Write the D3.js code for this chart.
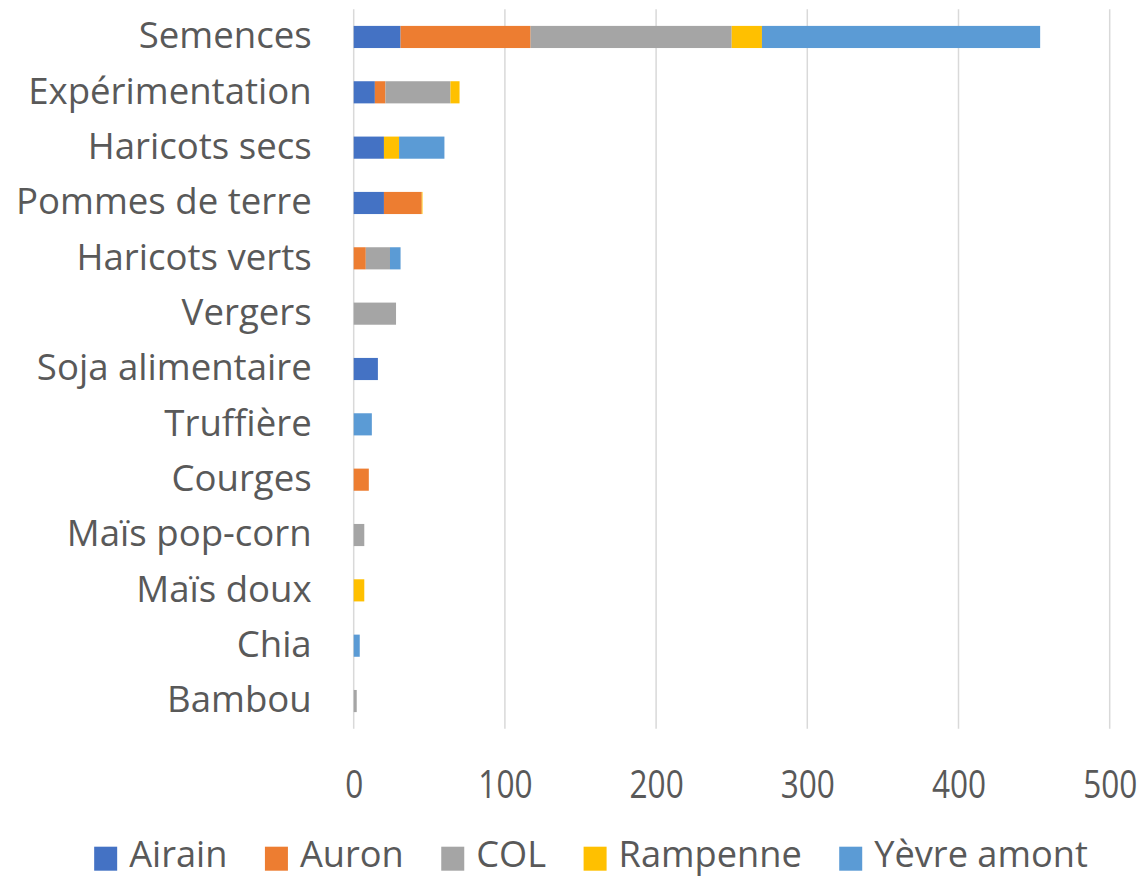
<!DOCTYPE html>
<html>
<head>
<meta charset="utf-8">
<script src="https://cdn.jsdelivr.net/npm/d3@7"></script>
<style>
  html, body { margin: 0; padding: 0; background: #fff; }
  svg { display: block; font-family: "Open Sans", sans-serif; }
</style>
</head>
<body>
<svg id="chart" width="1146" height="878"></svg>
<script>
const categories = ["Semences", "Expérimentation", "Haricots secs", "Pommes de terre", "Haricots verts", "Vergers", "Soja alimentaire", "Truffière", "Courges", "Maïs pop-corn", "Maïs doux", "Chia", "Bambou"];
const seriesNames = ["Airain", "Auron", "COL", "Rampenne", "Yèvre amont"];
const airain   = [31, 14, 20, 20, 0, 0, 16, 0, 0, 0, 0, 0, 0];
const auron    = [86, 7, 0, 25, 8, 0, 0, 0, 10, 0, 0, 0, 0];
const col      = [133, 43, 0, 0, 16, 28, 0, 0, 0, 7, 0, 0, 2];
const rampenne = [20, 6, 10, 0.5, 0, 0, 0, 0, 0, 0, 7, 0, 0];
const yevre    = [184, 0, 30, 0, 7, 0, 0, 12, 0, 0, 0, 4, 0];
const colors   = ["#4472C4", "#ED7D31", "#A5A5A5", "#FFC000", "#5B9BD5"];
const xTicks   = [0, 100, 200, 300, 400, 500];

const seriesValues = [airain, auron, col, rampenne, yevre];
const rows = categories.map((c, i) => {
  const r = { category: c };
  seriesNames.forEach((s, j) => r[s] = seriesValues[j][i]);
  return r;
});

const svg = d3.select("#chart");
const plot = { left: 353.7, right: 1109.7, top: 9.3, bottom: 728.7 };

const x = d3.scaleLinear().domain([0, 500]).range([plot.left, plot.right]);
const y = d3.scaleBand().domain(categories).range([plot.top, plot.bottom])
  .paddingInner(0.6).paddingOuter(0.3);
const color = d3.scaleOrdinal().domain(seriesNames).range(colors);

// gridlines
svg.append("g").selectAll("line").data(xTicks).join("line")
  .attr("x1", d => x(d)).attr("x2", d => x(d))
  .attr("y1", plot.top).attr("y2", plot.bottom)
  .attr("stroke", "#D9D9D9").attr("stroke-width", 1.5);

// bars
const stack = d3.stack().keys(seriesNames);
const stacked = stack(rows);
svg.append("g").selectAll("g").data(stacked).join("g")
  .attr("fill", d => color(d.key))
  .selectAll("rect").data(d => d).join("rect")
  .attr("x", d => x(d[0]))
  .attr("y", d => y(d.data.category))
  .attr("width", d => Math.max(0, x(d[1]) - x(d[0])))
  .attr("height", y.bandwidth());

// x axis labels
const xAxis = d3.axisBottom(x).tickValues(xTicks).tickSize(0).tickPadding(0).tickFormat(d3.format("d"));
const gx = svg.append("g").attr("transform", `translate(0,${plot.bottom})`).call(xAxis);
gx.select(".domain").remove();
gx.selectAll("text")
  .attr("y", 0).attr("dy", null)
  .attr("transform", "translate(0,69) scale(0.82,1)")
  .attr("font-family", "Open Sans, sans-serif")
  .attr("font-size", 38.5)
  .attr("fill", "#595959")
  .attr("text-anchor", "middle");

// y axis labels
const yAxis = d3.axisLeft(y).tickSize(0).tickPadding(0);
const gy = svg.append("g").attr("transform", `translate(${plot.left},0)`).call(yAxis);
gy.select(".domain").remove();
gy.selectAll("text")
  .attr("x", -42).attr("dy", "0").attr("y", 11.2)
  .attr("font-family", "Open Sans, sans-serif")
  .attr("font-size", 36.6)
  .attr("fill", "#595959")
  .attr("text-anchor", "end");

// legend
const legend = svg.append("g");
const items = legend.selectAll("g").data(seriesNames).join("g");
items.append("rect").attr("width", 23).attr("height", 24).attr("y", 846.7).attr("fill", d => color(d));
items.append("text").text(d => d).attr("x", 35).attr("y", 867)
  .attr("font-size", 36.2).attr("fill", "#595959");
let widths = [];
items.select("text").each(function() { widths.push(this.getComputedTextLength()); });
const totalW = d3.sum(widths, w => 35 + w) + 37.5 * (widths.length - 1);
let cx = 591 - totalW / 2;
items.each(function(d, i) {
  d3.select(this).attr("transform", `translate(${cx},0)`);
  cx += 35 + widths[i] + 37.5;
});
</script>
</body>
</html>
